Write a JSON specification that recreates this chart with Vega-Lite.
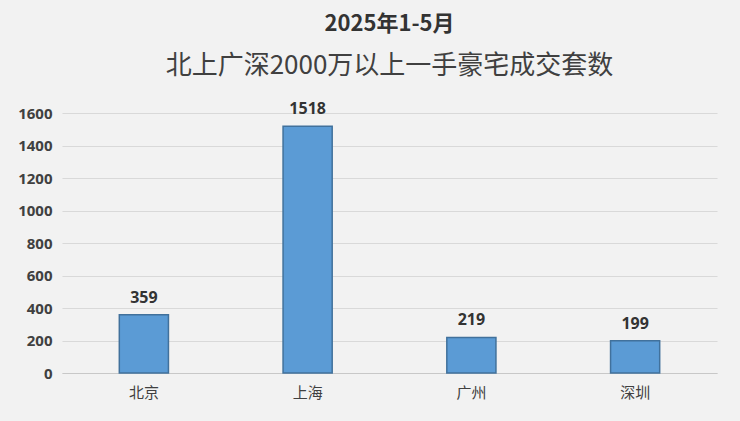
{
  "$schema": "https://vega.github.io/schema/vega-lite/v6.json",
  "autosize": {"type": "fit", "contains": "padding"},
  "width": 740,
  "height": 421,
  "padding": {"left": 17, "right": 23, "top": 18, "bottom": 21},
  "background": "#f2f2f2",
  "title": {
    "text": "2025年1-5月",
    "subtitle": "北上广深2000万以上一手豪宅成交套数",
    "anchor": "middle",
    "font": "Noto Sans CJK SC",
    "fontSize": 22,
    "fontWeight": "bold",
    "color": "#333333",
    "subtitleFont": "Noto Sans CJK SC",
    "subtitleFontSize": 26,
    "subtitleFontWeight": "normal",
    "subtitleColor": "#404040",
    "subtitlePadding": 17,
    "offset": 21
  },
  "data": {
    "values": [
      {"city": "北京", "count": 359},
      {"city": "上海", "count": 1518},
      {"city": "广州", "count": 219},
      {"city": "深圳", "count": 199}
    ]
  },
  "encoding": {
    "x": {
      "field": "city",
      "type": "nominal",
      "sort": null,
      "scale": {"paddingInner": 0.7, "paddingOuter": 0.35},
      "axis": {
        "title": null,
        "labelAngle": 0,
        "labelFont": "Noto Sans CJK SC",
        "labelFontSize": 15,
        "labelColor": "#404040",
        "labelPadding": 12,
        "ticks": false,
        "domainColor": "#c8c8c8"
      }
    },
    "y": {
      "field": "count",
      "type": "quantitative",
      "scale": {"domain": [0, 1600]},
      "axis": {
        "title": null,
        "values": [0, 200, 400, 600, 800, 1000, 1200, 1400, 1600],
        "format": "d",
        "labelFont": "Noto Sans",
        "labelFontSize": 15,
        "labelFontWeight": "bold",
        "labelColor": "#404040",
        "labelPadding": 10,
        "ticks": false,
        "domain": false,
        "gridColor": "#d9d9d9"
      }
    }
  },
  "layer": [
    {
      "mark": {
        "type": "bar",
        "color": "#5b9bd5",
        "stroke": "#41719c",
        "strokeWidth": 1.5
      }
    },
    {
      "mark": {
        "type": "text",
        "baseline": "bottom",
        "dy": -9,
        "font": "Noto Sans",
        "fontSize": 16,
        "fontWeight": "bold",
        "color": "#333333"
      },
      "encoding": {"text": {"field": "count", "type": "quantitative"}}
    }
  ],
  "config": {"view": {"stroke": null}}
}
